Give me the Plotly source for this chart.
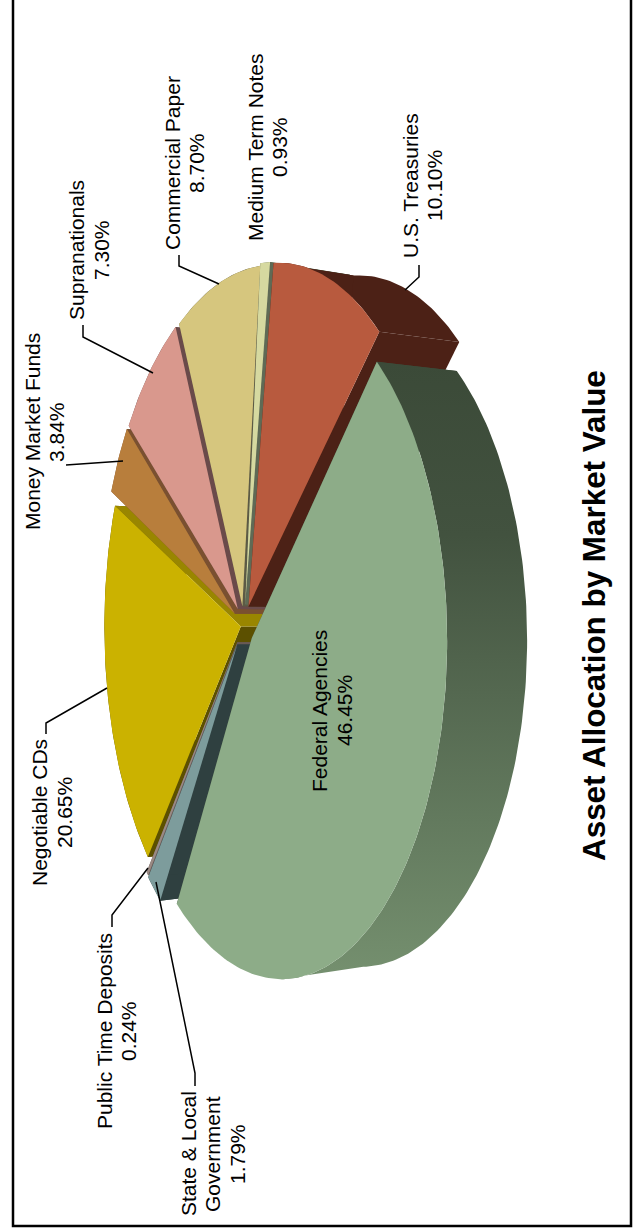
import math
import plotly.graph_objects as go

# ---- data -------------------------------------------------------------
categories = ["Federal Agencies", "State & Local Government", "Public Time Deposits",
              "Negotiable CDs", "Money Market Funds", "Supranationals",
              "Commercial Paper", "Medium Term Notes", "U.S. Treasuries"]
values = [46.45, 1.79, 0.24, 20.65, 3.84, 7.30, 8.70, 0.93, 10.10]
label_lines = [["Federal Agencies", "46.45%"], ["State & Local", "Government", "1.79%"],
               ["Public Time Deposits", "0.24%"], ["Negotiable CDs", "20.65%"],
               ["Money Market Funds", "3.84%"], ["Supranationals", "7.30%"],
               ["Commercial Paper", "8.70%"], ["Medium Term Notes", "0.93%"],
               ["U.S. Treasuries", "10.10%"]]
title_text = "Asset Allocation by Market Value"

# ---- style ------------------------------------------------------------
top_colors = ["#8dac88", "#7d9c9c", "#9a8a84", "#cbb200", "#b87e3c",
              "#d9988d", "#d6c67e", "#d6d9a0", "#b85a3e"]
wall_a = ["#3b4a38", "#2f4040", "#6a5a55", "#5c5000", "#7a5030",
          "#6a4a4a", "#5c5a45", "#5f6a55", "#4c2116"]   # edge at slice start
wall_b = ["#3b4a38", "#2f4040", "#6a5a55", "#998600", "#7a5030",
          "#6a4a4a", "#5c5a45", "#5f6a55", "#4c2116"]   # edge at slice end
explode = [0.06, 0.07, 0.065, 0.02, 0.065, 0.06, 0.055, 0.06, 0.06]
radius = [0.965, 0.97, 0.97, 0.975, 0.975, 0.975, 0.975, 0.975, 0.975]
twist = [-2.0, 0, 0, 0.7, 1.5, 1.2, 1.0, 0, 0]
start_angle = -45.0

# projection of the tilted disc
CX, CY, A, B, K = 244.0, 625.0, 165.0, 345.0, 0.176
DX, SHRINK = 80.0, 0.965

def project(u, v, depth=0.0):
    w = 1 - K * u
    x = CX + A * u / w
    y = CY + B * v / w
    return x + DX * depth, CY + (y - CY) * (1 - (1 - SHRINK) * depth)

def slice_geom(a0, a1, e, r, tw):
    m = math.radians((a0 + a1) / 2)
    ox, oy = e * math.cos(m), e * math.sin(m)
    n = max(2, int(abs(a1 - a0)))
    ts = [math.radians(a0 + tw + (a1 - a0) * i / n) for i in range(n + 1)]
    return (ox, oy), [(ox + r * math.cos(t), oy + r * math.sin(t)) for t in ts]

def poly(pts, color=None, gradient=None):
    xs = [p[0] for p in pts] + [pts[0][0]]
    ys = [p[1] for p in pts] + [pts[0][1]]
    kw = dict(x=xs, y=ys, mode="lines", fill="toself", line=dict(width=0),
              hoverinfo="skip", showlegend=False)
    if gradient:
        kw["fillgradient"] = gradient
    else:
        kw["fillcolor"] = color
    return go.Scatter(**kw)

total = sum(values)
slices = []
a = start_angle
for i, val in enumerate(values):
    b = a + 360 * val / total
    c, arc = slice_geom(a, b, explode[i], radius[i], twist[i])
    slices.append(dict(i=i, a0=a, a1=b, c=c, arc=arc))
    a = b

fig = go.Figure()
for s in sorted(slices, key=lambda q: math.cos(math.radians((q["a0"] + q["a1"]) / 2))):
    i, c, arc = s["i"], s["c"], s["arc"]
    radial = [poly([project(*c), project(*edge), project(*edge, 1), project(*c, 1)], col)
              for edge, col in ((arc[0], wall_a[i]), (arc[-1], wall_b[i]))]
    if i == 0:
        # the big slice: radial walls first, then the outer wall up to the lowest rim point
        for tr in radial:
            fig.add_trace(tr)
        k_low = max(range(len(arc)), key=lambda j: project(*arc[j])[1])
        vis = arc[:k_low + 1]
        pts = [project(*p) for p in vis] + [project(*p, 1) for p in reversed(vis)]
        grad = dict(type="vertical", colorscale=[[0, "#75906f"], [0.72, "#42523f"], [1, "#3b4a38"]])
        fig.add_trace(poly(pts, gradient=grad))
    else:
        pts = [project(*p) for p in arc] + [project(*p, 1) for p in reversed(arc)]
        fig.add_trace(poly(pts, wall_a[i]))
        for tr in radial:
            fig.add_trace(tr)
for s in slices:
    fig.add_trace(poly([project(*s["c"])] + [project(*p) for p in s["arc"]], top_colors[s["i"]]))

# ---- leaders and labels ------------------------------------------------
leaders = [
    [(179, 255), (179, 266), (219, 284)],
    [(83, 325), (83, 337), (153, 373)],
    [(419, 265), (419, 277), (405, 290)],
    [(66, 465), (123, 461)],
    [(46, 734), (46, 723), (107, 688)],
    [(112, 927), (112, 915), (148, 868)],
    [(195, 1086), (195, 1073), (156, 882)],
]
for ln in leaders:
    fig.add_trace(go.Scatter(x=[p[0] for p in ln], y=[p[1] for p in ln], mode="lines",
                             line=dict(color="black", width=1.5), hoverinfo="skip", showlegend=False))

# text baselines (x) per line and the common centre (y), in the order of the categories
label_base = [[327, 352], [196, 220, 245], [112, 136], [47, 72], [40, 64],
              [84, 109], [180, 204], [263, 287], [418, 442]]
label_y = [711, 1154, 1031, 813, 432, 250, 163, 147, 186]
annotations = []
for lines, bases, y in zip(label_lines, label_base, label_y):
    for t, bx in zip(lines, bases):
        annotations.append(dict(x=bx - 8, y=y, xref="x", yref="y", text=t, textangle=-90, showarrow=False,
                                font=dict(family="Liberation Sans, Arial", size=21, color="black")))
annotations.append(dict(x=594, y=616, xref="x", yref="y", text="<b>" + title_text + "</b>", textangle=-90,
                        showarrow=False, font=dict(family="Liberation Sans, Arial", size=31.4, color="black")))

fig.update_layout(
    width=633, height=1228, margin=dict(l=0, r=0, t=0, b=0),
    paper_bgcolor="white", plot_bgcolor="white", showlegend=False,
    xaxis=dict(range=[0, 633], visible=False, fixedrange=True),
    yaxis=dict(range=[1228, 0], visible=False, fixedrange=True),
    annotations=annotations,
    shapes=[dict(type="rect", xref="x", yref="y", x0=13, y0=-6, x1=631, y1=1226,
                 line=dict(color="black", width=2.5), layer="below")],
)
fig.write_html("out.html", config={"displayModeBar": False},
               post_script="document.body.style.margin='0';document.body.style.overflow='hidden';")
